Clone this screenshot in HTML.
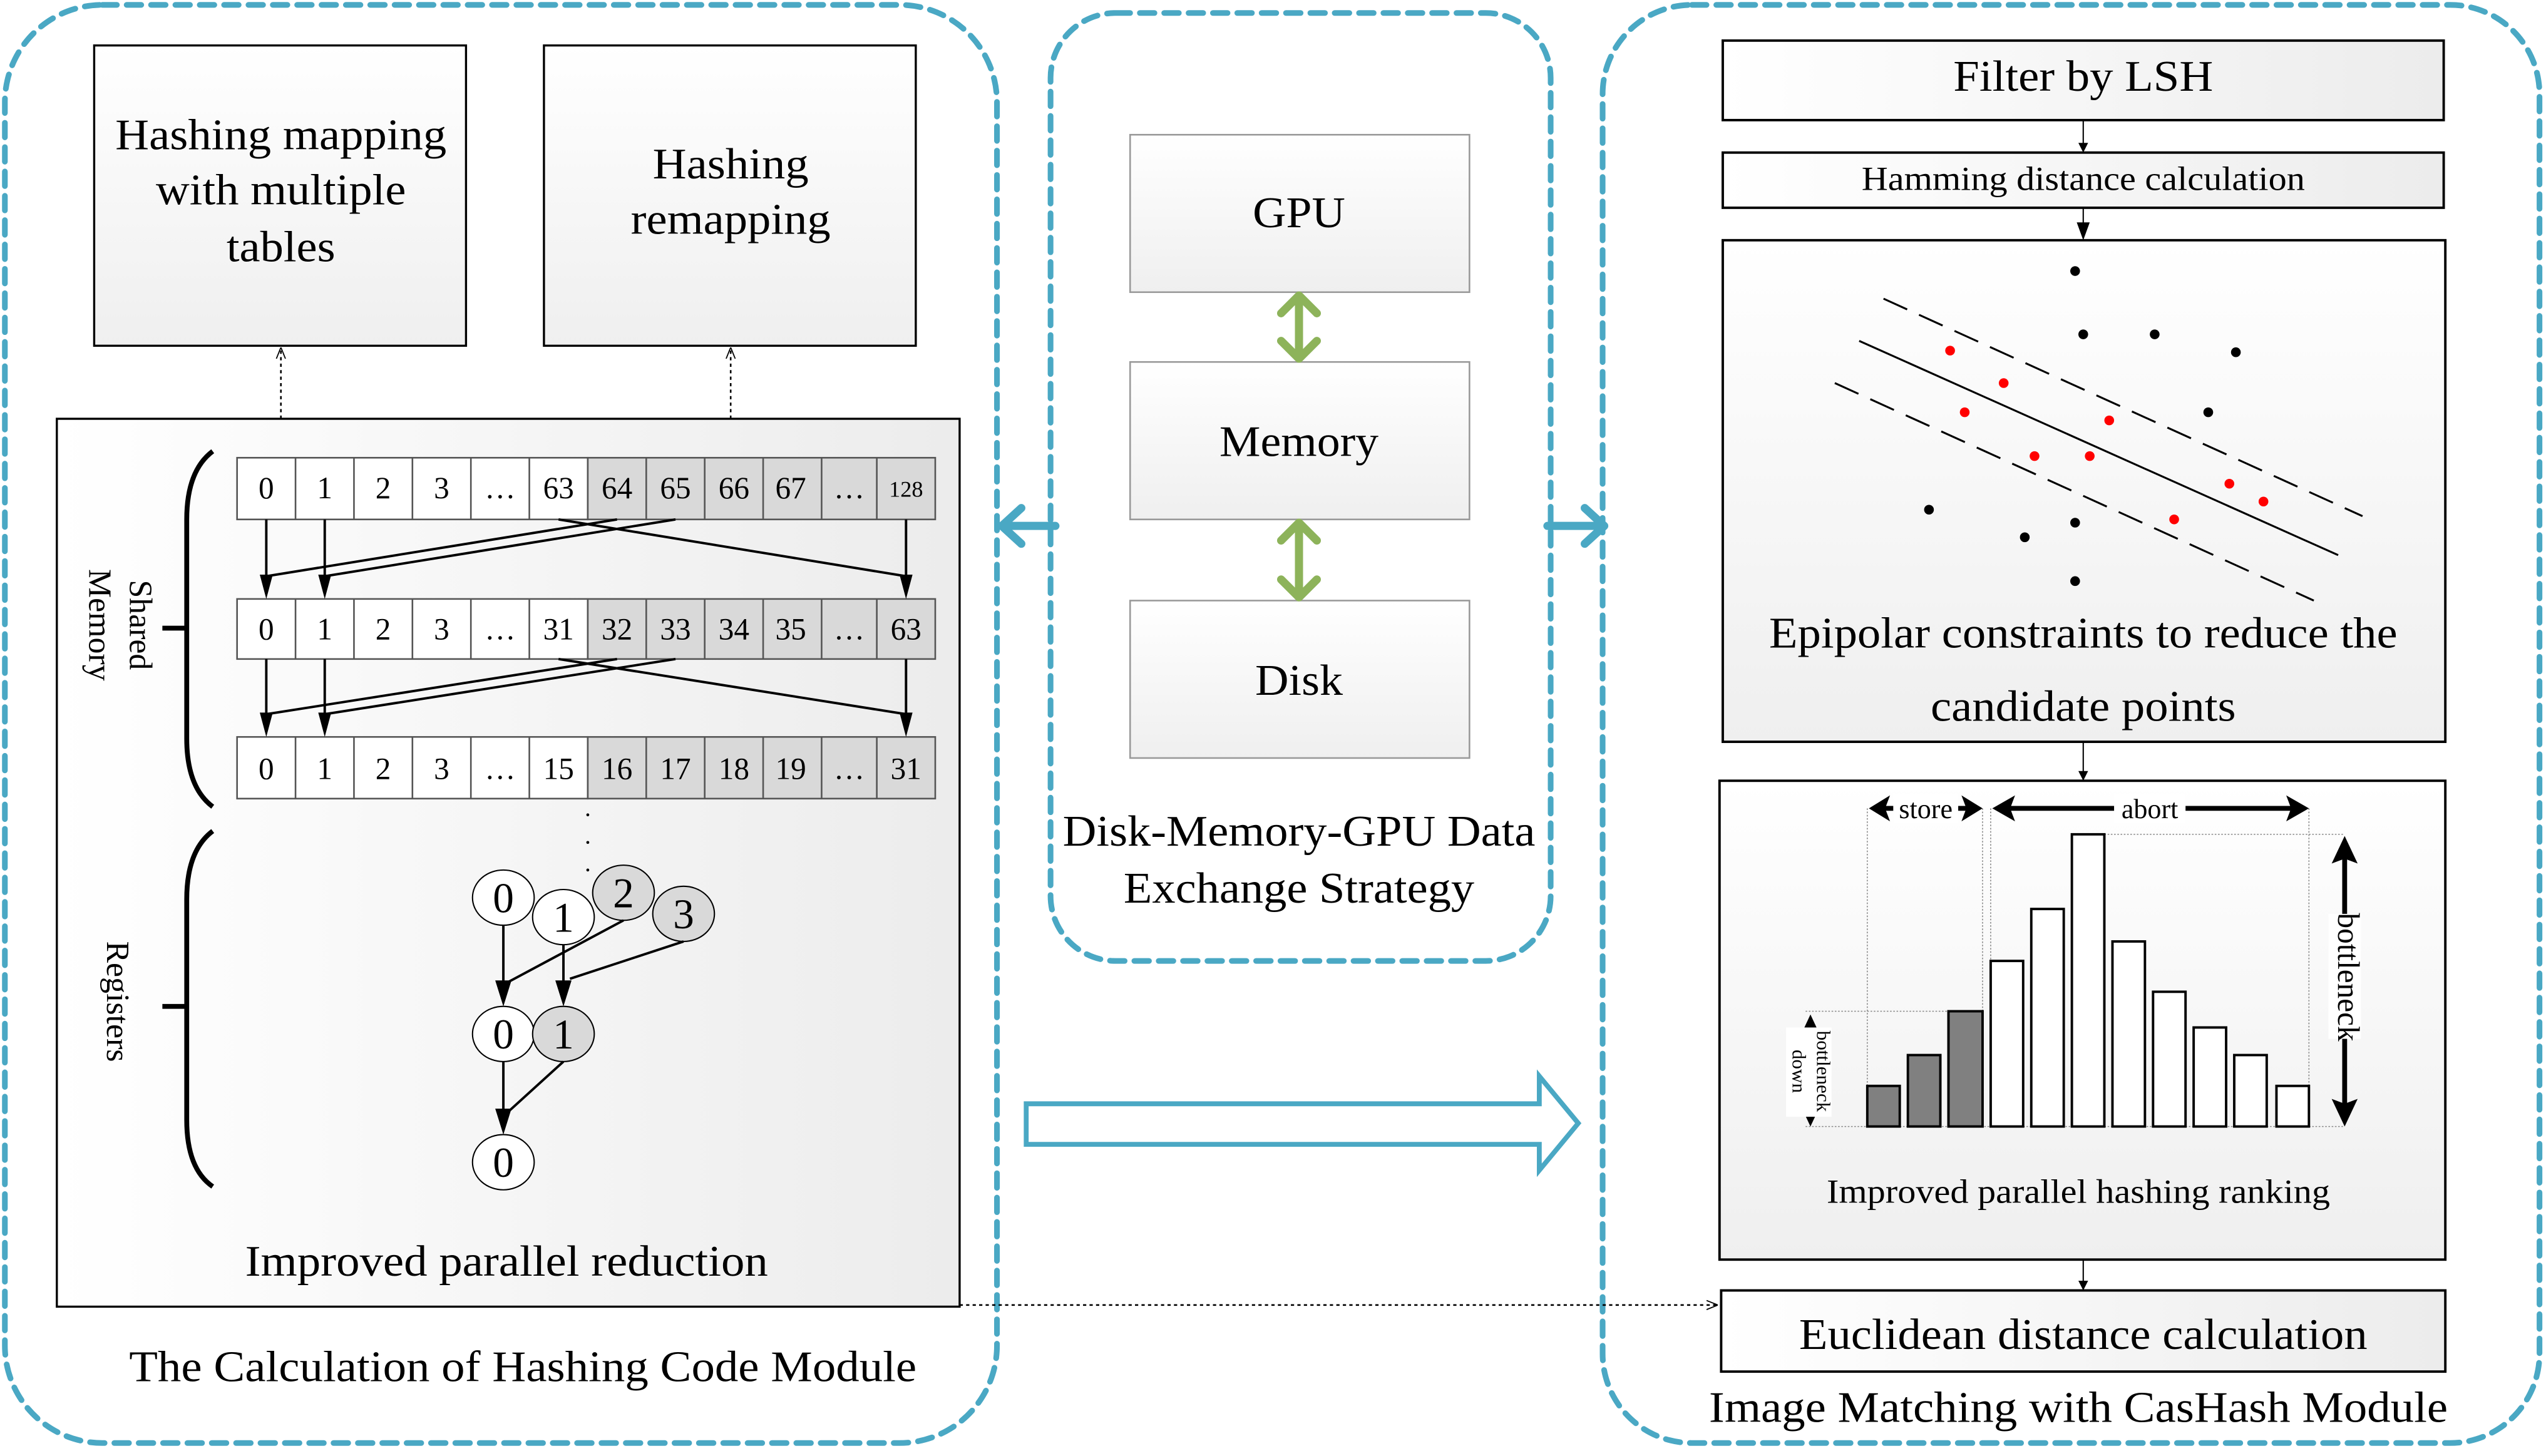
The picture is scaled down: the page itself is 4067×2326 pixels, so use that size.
<!DOCTYPE html>
<html><head><meta charset="utf-8"><style>html,body{margin:0;padding:0;background:#fff}svg{display:block}</style></head>
<body>
<svg width="4067" height="2326" viewBox="0 0 1568 897" preserveAspectRatio="none" xmlns="http://www.w3.org/2000/svg" font-family="Liberation Serif, serif">
<defs>
<linearGradient id="g" x1="0" y1="0" x2="0" y2="1"><stop offset="0" stop-color="#fff"/><stop offset="1" stop-color="#efefef"/></linearGradient>
<linearGradient id="gh" x1="0" y1="0" x2="1" y2="0"><stop offset="0" stop-color="#fff"/><stop offset="1" stop-color="#ececec"/></linearGradient>
<marker id="ao" viewBox="0 0 10 10" refX="10" refY="5" markerWidth="7" markerHeight="7" orient="auto" markerUnits="userSpaceOnUse"><path d="M0,1L10,5L0,9" fill="none" stroke="#000"/></marker>
</defs>
<g fill="none" stroke="#4aa8c4" stroke-width="3.5" stroke-dasharray="9,6" stroke-linecap="round">
<rect x="3" y="3" width="611" height="886" rx="60"/>
<rect x="647" y="8" width="308" height="584" rx="40"/>
<rect x="987" y="3" width="577" height="886" rx="55"/>
</g>
<rect x="58" y="28" width="229" height="185" fill="url(#g)" stroke="#000" stroke-width="1.3"/>
<rect x="335" y="28" width="229" height="185" fill="url(#g)" stroke="#000" stroke-width="1.3"/>
<g font-size="27" text-anchor="middle">
<text x="173" y="92" textLength="204" lengthAdjust="spacingAndGlyphs">Hashing mapping</text>
<text x="173" y="126" textLength="154" lengthAdjust="spacingAndGlyphs">with multiple</text>
<text x="173" y="161" textLength="67" lengthAdjust="spacingAndGlyphs">tables</text>
<text x="450" y="110" textLength="96" lengthAdjust="spacingAndGlyphs">Hashing</text>
<text x="450" y="144" textLength="123" lengthAdjust="spacingAndGlyphs">remapping</text>
</g>
<g stroke="#000" stroke-width="1" stroke-dasharray="2,2" fill="none">
<line x1="173" y1="258" x2="173" y2="214" marker-end="url(#ao)"/>
<line x1="450" y1="258" x2="450" y2="214" marker-end="url(#ao)"/>
</g>
<rect x="35" y="258" width="556" height="547" fill="url(#gh)" stroke="#000" stroke-width="1.3"/>
<g stroke="#555" stroke-width="1">
<rect x="146" y="282" width="216" height="38" fill="#fff"/><rect x="362" y="282" width="214" height="38" fill="#d9d9d9"/>
<rect x="146" y="369" width="216" height="37" fill="#fff"/><rect x="362" y="369" width="214" height="37" fill="#d9d9d9"/>
<rect x="146" y="454" width="216" height="38" fill="#fff"/><rect x="362" y="454" width="214" height="38" fill="#d9d9d9"/>
<path d="M182 282V320M218 282V320M254 282V320M290 282V320M326 282V320M398 282V320M434 282V320M470 282V320M506 282V320M540 282V320
M182 369V406M218 369V406M254 369V406M290 369V406M326 369V406M398 369V406M434 369V406M470 369V406M506 369V406M540 369V406
M182 454V492M218 454V492M254 454V492M290 454V492M326 454V492M398 454V492M434 454V492M470 454V492M506 454V492M540 454V492"/>
</g>
<g font-size="19" text-anchor="middle" fill="#000">
<text x="164" y="307">0</text><text x="200" y="307">1</text><text x="236" y="307">2</text><text x="272" y="307">3</text><text x="308" y="307">…</text><text x="344" y="307">63</text><text x="380" y="307">64</text><text x="416" y="307">65</text><text x="452" y="307">66</text><text x="487" y="307">67</text><text x="523" y="307">…</text><text x="558" y="306" font-size="14">128</text>
<text x="164" y="394">0</text><text x="200" y="394">1</text><text x="236" y="394">2</text><text x="272" y="394">3</text><text x="308" y="394">…</text><text x="344" y="394">31</text><text x="380" y="394">32</text><text x="416" y="394">33</text><text x="452" y="394">34</text><text x="487" y="394">35</text><text x="523" y="394">…</text><text x="558" y="394">63</text>
<text x="164" y="480">0</text><text x="200" y="480">1</text><text x="236" y="480">2</text><text x="272" y="480">3</text><text x="308" y="480">…</text><text x="344" y="480">15</text><text x="380" y="480">16</text><text x="416" y="480">17</text><text x="452" y="480">18</text><text x="487" y="480">19</text><text x="523" y="480">…</text><text x="558" y="480">31</text>
</g>
<g stroke="#000" stroke-width="1.5" fill="none">
<path d="M164 320V356M200 320V356M558 320V356M164 406V441M200 406V441M558 406V441"/>
<path d="M380 320L164 355M416 320L200 355M344 320L558 355"/>
<path d="M380 406L164 440M416 406L200 440M344 406L558 440"/>
</g>
<g fill="#000">
<path d="M160 354H168L164 369ZM196 354H204L200 369ZM554 354H562L558 369Z"/>
<path d="M160 439H168L164 454ZM196 439H204L200 454ZM554 439H562L558 454Z"/>
</g>
<g fill="#000"><circle cx="362" cy="502" r="0.9"/><circle cx="362" cy="519" r="0.9"/><circle cx="362" cy="536" r="0.9"/></g>
<g fill="none" stroke="#000" stroke-width="3">
<path d="M131 278Q115 290 115 320V455Q115 485 131 497"/><line x1="100" y1="387" x2="115" y2="387"/>
<path d="M131 512Q115 524 115 554V690Q115 720 131 731"/><line x1="100" y1="620" x2="115" y2="620"/>
</g>
<g font-size="20" text-anchor="middle">
<text transform="translate(80,385) rotate(90)">Shared</text>
<text transform="translate(55,385) rotate(90)">Memory</text>
<text transform="translate(66,617) rotate(90)">Registers</text>
</g>
<g stroke="#000" stroke-width="0.8">
<ellipse cx="310" cy="553" rx="19" ry="17" fill="#fff"/>
<ellipse cx="347" cy="565" rx="19" ry="17" fill="#fff"/>
<ellipse cx="384" cy="550" rx="19" ry="17" fill="#d9d9d9"/>
<ellipse cx="421" cy="563" rx="19" ry="17" fill="#d9d9d9"/>
<ellipse cx="310" cy="637" rx="19" ry="17" fill="#fff"/>
<ellipse cx="347" cy="637" rx="19" ry="17" fill="#d9d9d9"/>
<ellipse cx="310" cy="716" rx="19" ry="17" fill="#fff"/>
</g>
<g font-size="26" text-anchor="middle">
<text x="310" y="562">0</text><text x="347" y="574">1</text><text x="384" y="559">2</text><text x="421" y="572">3</text>
<text x="310" y="646">0</text><text x="347" y="646">1</text><text x="310" y="725">0</text>
</g>
<g stroke="#000" stroke-width="1.5" fill="none">
<line x1="310" y1="570" x2="310" y2="607"/>
<line x1="347" y1="582" x2="347" y2="607"/>
<line x1="384" y1="567" x2="313" y2="605"/>
<line x1="421" y1="580" x2="351" y2="603"/>
<line x1="310" y1="654" x2="310" y2="686"/>
<line x1="347" y1="654" x2="314" y2="684"/>
</g>
<g fill="#000">
<path d="M305 604H315L310 620ZM342 604H352L347 620ZM305 683H315L310 699Z"/>
</g>
<text x="312" y="786" font-size="27" text-anchor="middle" textLength="322" lengthAdjust="spacingAndGlyphs">Improved parallel reduction</text>
<text x="322" y="851" font-size="27" text-anchor="middle" textLength="485" lengthAdjust="spacingAndGlyphs">The Calculation of Hashing Code Module</text>
<g stroke="#999" stroke-width="1" fill="url(#g)">
<rect x="696" y="83" width="209" height="97"/>
<rect x="696" y="223" width="209" height="97"/>
<rect x="696" y="370" width="209" height="97"/>
</g>
<g font-size="27" text-anchor="middle">
<text x="800" y="140" textLength="57" lengthAdjust="spacingAndGlyphs">GPU</text>
<text x="800" y="281" textLength="98" lengthAdjust="spacingAndGlyphs">Memory</text>
<text x="800" y="428" textLength="54" lengthAdjust="spacingAndGlyphs">Disk</text>
<text x="800" y="521" textLength="291" lengthAdjust="spacingAndGlyphs">Disk-Memory-GPU Data</text>
<text x="800" y="556" textLength="216" lengthAdjust="spacingAndGlyphs">Exchange Strategy</text>
</g>
<g stroke="#8db35a" stroke-width="5" fill="none" stroke-linecap="round" stroke-linejoin="round">
<path d="M800 183V220M789 193L800 182L811 193M789 210L800 221L811 210"/>
<path d="M800 323V367M789 333L800 322L811 333M789 357L800 368L811 357"/>
</g>
<g stroke="#4aa8c4" stroke-width="5" fill="none" stroke-linecap="round" stroke-linejoin="round">
<path d="M650 324H618M629 313L617 324L629 335"/>
<path d="M953 324H987M976 313L988 324L976 335"/>
</g>
<path d="M632 680H948V663L972 692L948 721V705H632Z" fill="#fff" stroke="#4aa8c4" stroke-width="3"/>
<line x1="591" y1="804" x2="1058" y2="804" stroke="#000" stroke-width="1" stroke-dasharray="2,2" marker-end="url(#ao)"/>
<rect x="1061" y="25" width="444" height="49" fill="url(#gh)" stroke="#000" stroke-width="1.5"/>
<rect x="1061" y="94" width="444" height="34" fill="url(#gh)" stroke="#000" stroke-width="1.5"/>
<rect x="1061" y="148" width="445" height="309" fill="url(#g)" stroke="#000" stroke-width="1.5"/>
<rect x="1059" y="481" width="447" height="295" fill="url(#g)" stroke="#000" stroke-width="1.5"/>
<rect x="1060" y="795" width="446" height="50" fill="url(#gh)" stroke="#000" stroke-width="1.5"/>
<g stroke="#000" stroke-width="0.8" fill="none">
<path d="M1283 74V90M1283 128V140M1283 457V477M1283 776V791"/>
</g>
<g fill="#000">
<path d="M1280 88H1286L1283 94ZM1279 137H1287L1283 148ZM1280 475H1286L1283 481ZM1280 789H1286L1283 795Z"/>
</g>
<g font-size="27" text-anchor="middle">
<text x="1283" y="56" textLength="160" lengthAdjust="spacingAndGlyphs">Filter by LSH</text>
<text x="1283" y="117" font-size="21" textLength="273" lengthAdjust="spacingAndGlyphs">Hamming distance calculation</text>
<text x="1283" y="399" textLength="387" lengthAdjust="spacingAndGlyphs">Epipolar constraints to reduce the</text>
<text x="1283" y="444" textLength="188" lengthAdjust="spacingAndGlyphs">candidate points</text>
<text x="1280" y="741" font-size="21" textLength="310" lengthAdjust="spacingAndGlyphs">Improved parallel hashing ranking</text>
<text x="1283" y="831" textLength="350" lengthAdjust="spacingAndGlyphs">Euclidean distance calculation</text>
<text x="1280" y="876" textLength="455" lengthAdjust="spacingAndGlyphs">Image Matching with CasHash Module</text>
</g>
<g stroke="#000" stroke-width="1.2" fill="none">
<line x1="1145" y1="210" x2="1440" y2="342"/>
<line x1="1160" y1="184" x2="1455" y2="318" stroke-dasharray="16,8"/>
<line x1="1130" y1="236" x2="1425" y2="370" stroke-dasharray="16,8"/>
</g>
<g fill="#000">
<circle cx="1278" cy="167" r="3"/><circle cx="1283" cy="206" r="3"/><circle cx="1327" cy="206" r="3"/><circle cx="1377" cy="217" r="3"/><circle cx="1360" cy="254" r="3"/><circle cx="1188" cy="314" r="3"/><circle cx="1247" cy="331" r="3"/><circle cx="1278" cy="322" r="3"/><circle cx="1278" cy="358" r="3"/>
</g>
<g fill="#f00">
<circle cx="1201" cy="216" r="3"/><circle cx="1234" cy="236" r="3"/><circle cx="1210" cy="254" r="3"/><circle cx="1299" cy="259" r="3"/><circle cx="1253" cy="281" r="3"/><circle cx="1287" cy="281" r="3"/><circle cx="1373" cy="298" r="3"/><circle cx="1394" cy="309" r="3"/><circle cx="1339" cy="320" r="3"/>
</g>
<g stroke="#888" stroke-width="0.6" stroke-dasharray="1,1" fill="none">
<line x1="1150" y1="498" x2="1150" y2="669"/><line x1="1221" y1="498" x2="1221" y2="623"/>
<line x1="1226" y1="498" x2="1226" y2="592"/><line x1="1422" y1="498" x2="1422" y2="669"/>
<line x1="1296" y1="514" x2="1444" y2="514"/><line x1="1112" y1="623" x2="1200" y2="623"/>
<line x1="1112" y1="694" x2="1444" y2="694"/>
</g>
<g stroke="#000" stroke-width="1.5">
<rect x="1150" y="669" width="20" height="25" fill="#808080"/>
<rect x="1175" y="650" width="20" height="44" fill="#808080"/>
<rect x="1200" y="623" width="21" height="71" fill="#808080"/>
<rect x="1226" y="592" width="20" height="102" fill="#fff"/>
<rect x="1251" y="560" width="20" height="134" fill="#fff"/>
<rect x="1276" y="514" width="20" height="180" fill="#fff"/>
<rect x="1301" y="580" width="20" height="114" fill="#fff"/>
<rect x="1326" y="611" width="20" height="83" fill="#fff"/>
<rect x="1351" y="633" width="20" height="61" fill="#fff"/>
<rect x="1376" y="650" width="20" height="44" fill="#fff"/>
<rect x="1402" y="669" width="20" height="25" fill="#fff"/>
</g>
<g stroke="#000" stroke-width="3" fill="none">
<path d="M1160 498H1212M1238 498H1412M1444 528V684M1115 636V684"/>
</g>
<g fill="#000">
<path d="M1151 498L1164 490L1161 498L1164 506Z"/>
<path d="M1221 498L1208 490L1211 498L1208 506Z"/>
<path d="M1227 498L1241 490L1238 498L1241 506Z"/>
<path d="M1422 498L1408 490L1411 498L1408 506Z"/>
<path d="M1444 515L1436 532L1444 529L1452 532Z"/>
<path d="M1444 694L1436 677L1444 680L1452 677Z"/>
<path d="M1115 625L1108 640L1115 637L1122 640Z"/>
<path d="M1115 694L1108 679L1115 682L1122 679Z"/>
</g>
<rect x="1166" y="489" width="40" height="18" fill="#fff"/>
<rect x="1302" y="489" width="44" height="18" fill="#fff"/>
<rect x="1434" y="563" width="20" height="77" fill="#fff"/>
<rect x="1100" y="633" width="28" height="55" fill="#fff"/>
<g font-size="17" text-anchor="middle">
<text x="1186" y="504">store</text>
<text x="1324" y="504">abort</text>
<text transform="translate(1440,602) rotate(90)" font-size="19">bottleneck</text>
<text transform="translate(1119,660) rotate(90)" font-size="12">bottleneck</text>
<text transform="translate(1104,660) rotate(90)" font-size="12">down</text>
</g>
</svg>
</body></html>
